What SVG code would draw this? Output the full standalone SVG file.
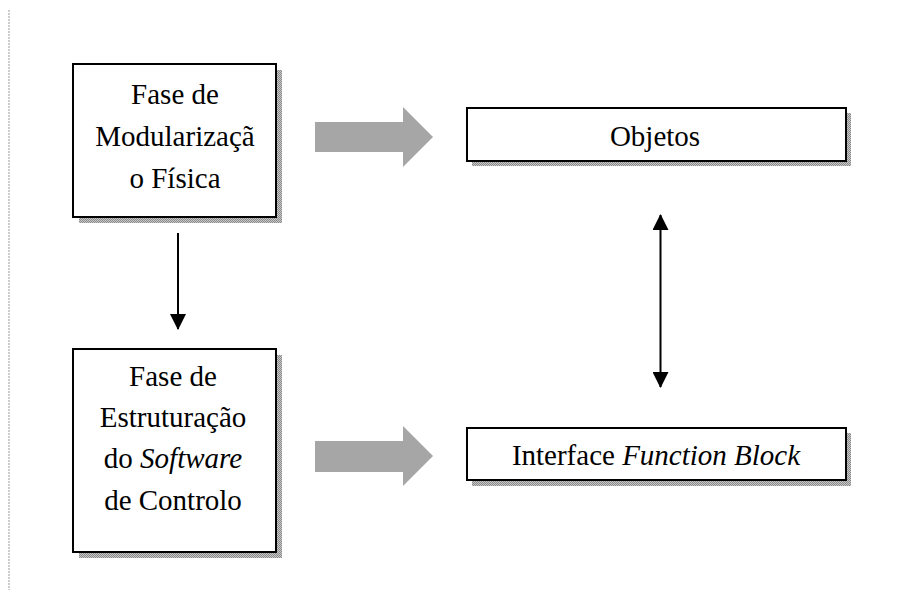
<svg xmlns="http://www.w3.org/2000/svg" width="920" height="600" viewBox="0 0 920 600">
<style>
.box{fill:#fff;stroke:#000;stroke-width:2}
.sh{fill:url(#chk)}
text{font-family:'Liberation Serif','Times New Roman',serif;font-size:29px;fill:#000;text-anchor:middle}
.it{font-style:italic}
.ln{stroke:#000;stroke-width:2;fill:none}
.blk{fill:#a6a6a6}
</style>
<defs>
<pattern id="chk" width="2" height="2" patternUnits="userSpaceOnUse">
<rect width="2" height="2" fill="#c8c8c8"/>
<rect width="1" height="1" fill="#8a8a8a"/>
<rect x="1" y="1" width="1" height="1" fill="#8a8a8a"/>
</pattern>
<marker id="ah" viewBox="0 0 16 16" refX="15" refY="8" markerWidth="16" markerHeight="16" markerUnits="userSpaceOnUse" orient="auto-start-reverse">
<path d="M0,0 L16,8 L0,16 z" fill="#000"/>
</marker>
</defs>
<line x1="9" y1="10" x2="9" y2="590" stroke="#9a9a9a" stroke-width="1" stroke-dasharray="2,1"/>
<g id="n1">
<rect class="sh" x="79" y="70" width="203" height="153"/>
<rect class="box" x="73" y="64" width="203" height="153"/>
<text x="175" y="104">Fase de</text>
<text x="175" y="146">Modularizaçã</text>
<text x="175" y="188">o Física</text>
</g>
<g id="n2">
<rect class="sh" x="79" y="355" width="203" height="203"/>
<rect class="box" x="73" y="349" width="203" height="203"/>
<text x="173" y="386">Fase de</text>
<text x="173" y="427">Estruturação</text>
<text x="173" y="468">do <tspan class="it">Software</tspan></text>
<text x="173" y="510">de Controlo</text>
</g>
<g id="n3">
<rect class="sh" x="472" y="113" width="379" height="53"/>
<rect class="box" x="467" y="108" width="379" height="53" stroke-width="1.5"/>
<text x="655" y="146">Objetos</text>
</g>
<g id="n4">
<rect class="sh" x="472" y="433" width="379" height="53"/>
<rect class="box" x="467" y="428" width="379" height="52" stroke-width="1.5"/>
<text x="656" y="465">Interface <tspan class="it">Function Block</tspan></text>
</g>
<g id="connectors">
<polygon class="blk" points="315,122 403,122 403,107 433,137 403,167 403,152 315,152"/>
<polygon class="blk" points="315,441 403,441 403,426 433,456 403,486 403,472 315,472"/>
<line class="ln" x1="178" y1="233" x2="178" y2="329" marker-end="url(#ah)"/>
<line class="ln" x1="660.5" y1="215" x2="660.5" y2="387" marker-start="url(#ah)" marker-end="url(#ah)"/>
</g>
</svg>
